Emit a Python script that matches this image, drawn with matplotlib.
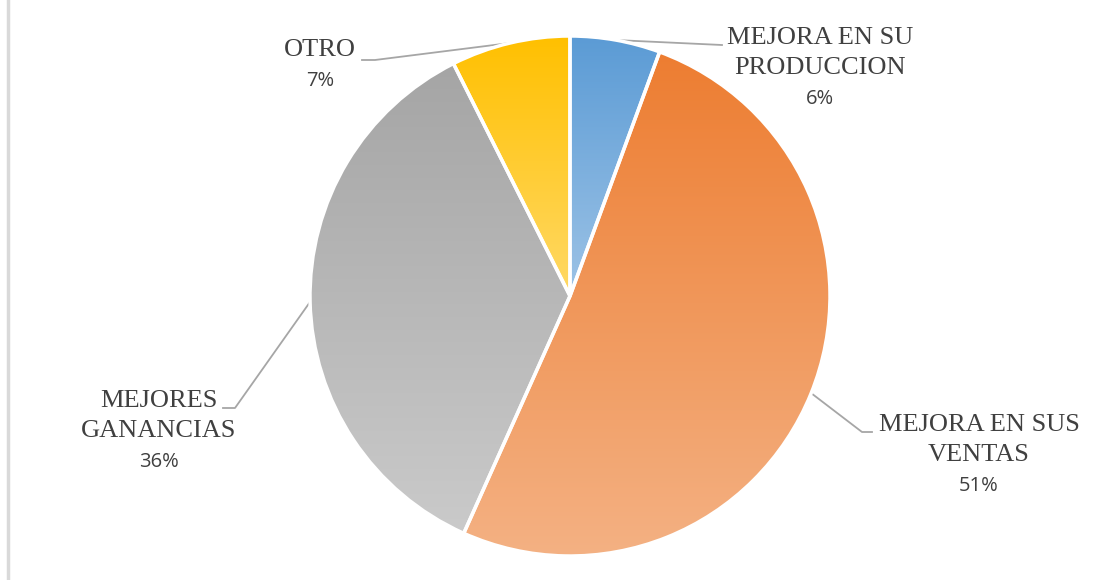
import numpy as np
import matplotlib
matplotlib.use("Agg")
import matplotlib.pyplot as plt
from matplotlib.colors import LinearSegmentedColormap

# data
names = ["MEJORA EN SU\nPRODUCCION", "MEJORA EN SUS\nVENTAS", "MEJORES\nGANANCIAS", "OTRO"]
values = [5.6, 51.1, 35.9, 7.4]
top_colors = ["#5B9BD5", "#ED7D31", "#A5A5A5", "#FFC000"]
bottom_colors = ["#9DC3E6", "#F4B183", "#CACACA", "#FFD966"]

W, H = 1118, 580
fig = plt.figure(figsize=(W / 100, H / 100), dpi=100)
ax = fig.add_axes([0, 0, 1, 1])

cx, cy, r = 570, H - 296, 260
wedges, _ = ax.pie(values, center=(cx, cy), radius=r, startangle=90,
                   counterclock=False, frame=True,
                   wedgeprops=dict(facecolor="none", edgecolor="white", linewidth=2.5, zorder=3))

# vertical gradient fill clipped to each wedge
for w, c0, c1 in zip(wedges, top_colors, bottom_colors):
    bb = w.get_path().get_extents(w.get_patch_transform())
    cmap = LinearSegmentedColormap.from_list("g", [c0, c1])
    grad = np.linspace(0, 1, 256).reshape(-1, 1)
    im = ax.imshow(grad, cmap=cmap, extent=[bb.x0, bb.x1, bb.y0, bb.y1],
                   origin="upper", aspect="auto", zorder=2, interpolation="bilinear")
    im.set_clip_path(w)

# labels: leader line points and text anchor (pixel coords from top)
leaders = [
    [(615, 40), (722, 45)],
    [(811, 393), (862, 432), (872, 432)],
    [(310, 302), (235, 408), (223, 408)],
    [(510, 43), (375, 60), (362, 60)],
]
label_pos = [(820, 38), (979, 425), (159, 401), (320, 50)]
total = sum(values)
for name, v, pts, (lx, ly) in zip(names, values, leaders, label_pos):
    xs = [p[0] for p in pts]
    ys = [H - p[1] for p in pts]
    ax.plot(xs, ys, color="#A6A6A6", lw=1.3, zorder=1)
    lines = name.split("\n")
    for i, t in enumerate(lines):
        ax.text(lx, H - (ly + 30 * i), t, ha="center", va="center",
                fontsize=19, family="Liberation Serif", color="#404040")
    ax.text(lx, H - (ly + 30 * len(lines) + 1), f"{v / total * 100:.0f}%",
            ha="center", va="center", fontsize=14.5, family="Open Sans", color="#404040")

# left border of the chart area
ax.plot([8, 8], [0, H], color="#D9D9D9", lw=2.5, zorder=1)

ax.set_xlim(0, W)
ax.set_ylim(0, H)
ax.set_aspect("auto")
ax.axis("off")
fig.savefig("out.png", dpi=100, facecolor="white")
